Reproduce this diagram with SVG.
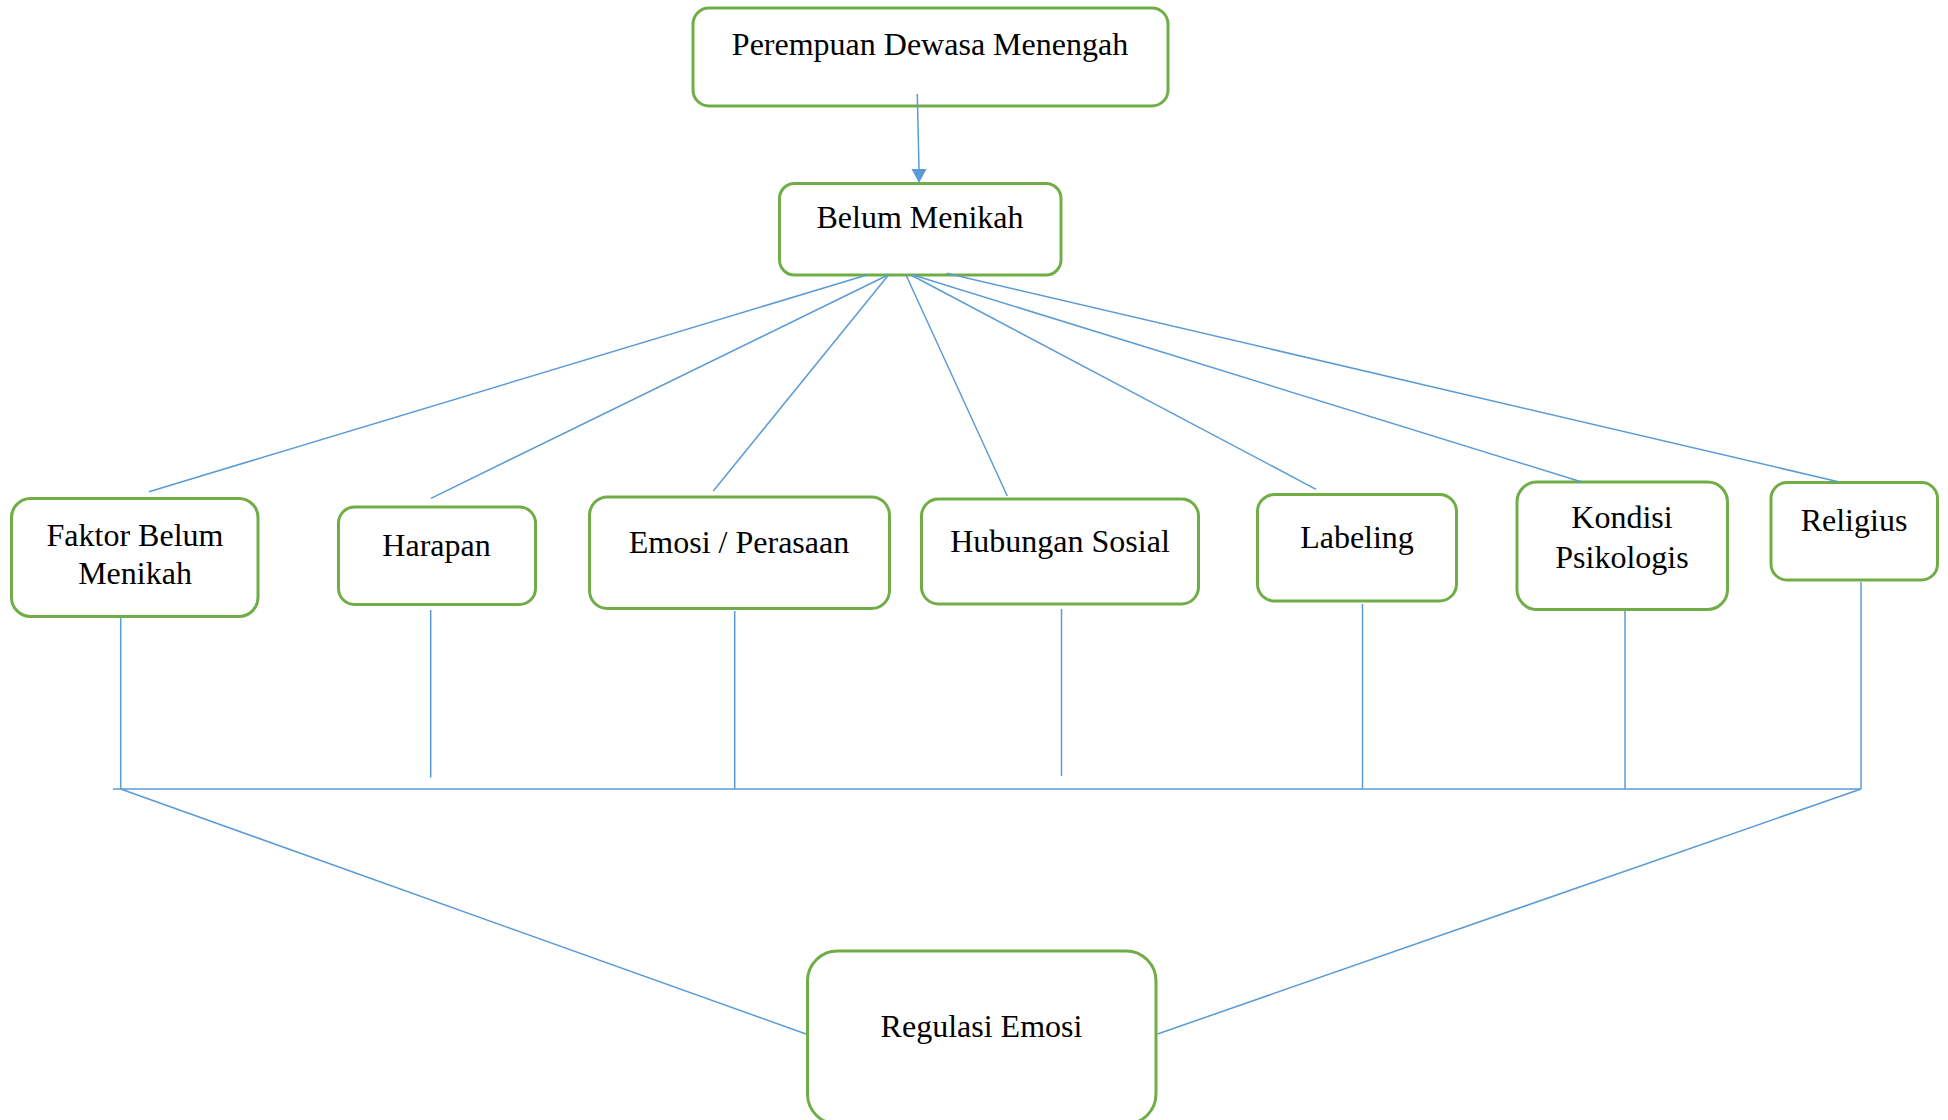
<svg xmlns="http://www.w3.org/2000/svg" width="1948" height="1120" viewBox="0 0 1948 1120">
<style>
.box{fill:#ffffff;stroke:#70AD47;stroke-width:3}
.lbl{font-family:"Liberation Serif","Times New Roman",serif;font-size:32px;fill:#000000;text-anchor:middle}
.cn{stroke:#5B9BD5;stroke-width:1.5;fill:none}
</style>
<defs>
<marker id="arr" markerWidth="10" markerHeight="10" refX="9" refY="5" orient="auto" markerUnits="userSpaceOnUse" viewBox="0 0 10 10">
<path d="M0,0 L10,5 L0,10 z" fill="#5B9BD5"/>
</marker>
</defs>
<rect width="1948" height="1120" fill="#ffffff"/>
<g id="node-perempuan">
<rect class="box" x="693" y="8" width="475" height="98" rx="16" ry="16"/>
<text class="lbl" x="930" y="55">Perempuan Dewasa Menengah</text>
</g>
<g id="node-belum">
<rect class="box" x="779.5" y="183.5" width="281.5" height="91.5" rx="15" ry="15"/>
<text class="lbl" x="920" y="228">Belum Menikah</text>
</g>
<g id="node-faktor">
<rect class="box" x="11.5" y="498.5" width="246.5" height="118" rx="19" ry="19"/>
<text class="lbl" x="135" y="546">Faktor Belum</text>
<text class="lbl" x="135" y="584">Menikah</text>
</g>
<g id="node-harapan">
<rect class="box" x="338.5" y="507" width="197" height="97.5" rx="16" ry="16"/>
<text class="lbl" x="436.5" y="556">Harapan</text>
</g>
<g id="node-emosi">
<rect class="box" x="589.5" y="497" width="300" height="111.5" rx="18" ry="18"/>
<text class="lbl" x="739" y="553">Emosi / Perasaan</text>
</g>
<g id="node-hubungan">
<rect class="box" x="921.5" y="499" width="277" height="105" rx="17" ry="17"/>
<text class="lbl" x="1060" y="552">Hubungan Sosial</text>
</g>
<g id="node-labeling">
<rect class="box" x="1257.5" y="494.5" width="199" height="106.5" rx="17" ry="17"/>
<text class="lbl" x="1357" y="548">Labeling</text>
</g>
<g id="node-kondisi">
<rect class="box" x="1517" y="482" width="210.5" height="127.5" rx="20" ry="20"/>
<text class="lbl" x="1622" y="528">Kondisi</text>
<text class="lbl" x="1622" y="568">Psikologis</text>
</g>
<g id="node-religius">
<rect class="box" x="1771" y="482.5" width="166.5" height="97.5" rx="16" ry="16"/>
<text class="lbl" x="1854" y="531">Religius</text>
</g>
<g id="node-regulasi">
<rect class="box" x="807.5" y="951" width="348.5" height="173" rx="30" ry="30"/>
<text class="lbl" x="981.5" y="1037">Regulasi Emosi</text>
</g>
<g id="connectors">
<line class="cn" x1="917.3" y1="94" x2="919" y2="169"/>
<path d="M911.5,169 L926.5,169 L919,183 z" fill="#5B9BD5"/>
<line class="cn" x1="866.7" y1="275" x2="149" y2="491.7"/>
<line class="cn" x1="888" y1="275" x2="431" y2="498.3"/>
<line class="cn" x1="888.5" y1="275" x2="713.3" y2="491"/>
<line class="cn" x1="906" y1="275" x2="1007.3" y2="496"/>
<line class="cn" x1="911" y1="275" x2="1316" y2="489.3"/>
<line class="cn" x1="913" y1="275" x2="1581" y2="481.7"/>
<line class="cn" x1="946.7" y1="273.3" x2="1838.3" y2="481.7"/>
<line class="cn" x1="120.7" y1="618" x2="120.7" y2="789"/>
<line class="cn" x1="430.7" y1="610" x2="430.7" y2="777.5"/>
<line class="cn" x1="734.7" y1="611" x2="734.7" y2="789"/>
<line class="cn" x1="1061.5" y1="609" x2="1061.5" y2="776"/>
<line class="cn" x1="1362.5" y1="604" x2="1362.5" y2="789"/>
<line class="cn" x1="1625" y1="611" x2="1625" y2="789"/>
<line class="cn" x1="1861" y1="582" x2="1861" y2="789"/>
<line class="cn" x1="113" y1="789" x2="1861" y2="789"/>
<line class="cn" x1="120.7" y1="789" x2="806" y2="1034"/>
<line class="cn" x1="1861" y1="789" x2="1157.5" y2="1034"/>
</g>
</svg>
